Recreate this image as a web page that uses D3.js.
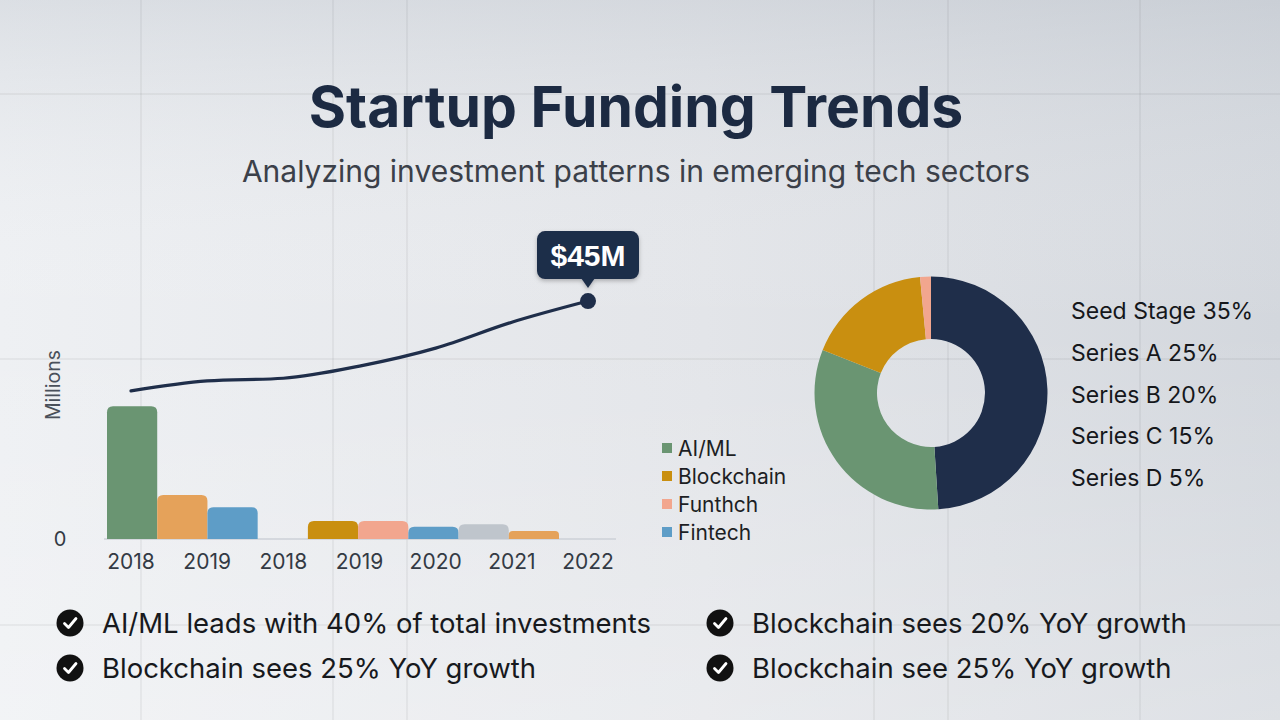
<!DOCTYPE html>
<html>
<head>
<meta charset="utf-8">
<script src="https://cdn.jsdelivr.net/npm/d3@7"></script>
<style>
  html, body { margin: 0; padding: 0; }
  body { width: 1280px; height: 720px; overflow: hidden; font-family: Inter, "Noto Sans", sans-serif; }
</style>
</head>
<body>
<svg id="chart" width="1280" height="720"></svg>
<script>
// x-axis labels under the bars / line
var yearLabels = ["2018", "2019", "2018", "2019", "2020", "2021", "2022"]

// total funding line, in millions
var lineValues = [28, 29.9, 30.4, 32.7, 36.1, 41, 45]

// bar slots (slot 4 is empty in the picture)
var barValues = [25.1, 8.3, 6.0, null, 3.4, 3.4, 2.3, 2.8, 1.5]
var barColors = ["#6a9572", "#e5a25a", "#5e9dc7", null, "#c98f10", "#f2a68e", "#5e9dc7", "#bfc5cc", "#e5a25a"]

var legendNames = ["AI/ML", "Blockchain", "Funthch", "Fintech"]
var legendColors = ["#6a9572", "#c98f10", "#f2a68e", "#5e9dc7"]

// donut shares
var donutValues = [49, 32, 17.5, 1.5]
var donutColors = ["#1f2e4a", "#6a9572", "#c98f10", "#f2a68e"]

var stageLabels = ["Seed Stage 35%", "Series A 25%", "Series B 20%", "Series C 15%", "Series D 5%"]

var bullets = [
    "AI/ML leads with 40% of total investments",
    "Blockchain sees 25% YoY growth",
    "Blockchain sees 20% YoY growth",
    "Blockchain see 25% YoY growth"
]

var navy = "#1f2e4a"
var svg = d3.select("#chart")

// background
var defs = svg.append("defs")
var bgH = defs.append("linearGradient").attr("id", "bgH").attr("x1", 0).attr("x2", 1).attr("y1", 0).attr("y2", 0)
bgH.append("stop").attr("offset", "0%").attr("stop-color", "#eef0f3")
bgH.append("stop").attr("offset", "55%").attr("stop-color", "#e3e5e9")
bgH.append("stop").attr("offset", "100%").attr("stop-color", "#d3d7dd")
var bgV = defs.append("linearGradient").attr("id", "bgV").attr("x1", 0).attr("x2", 0).attr("y1", 0).attr("y2", 1)
bgV.append("stop").attr("offset", "0%").attr("stop-color", "#b9c0c9").attr("stop-opacity", 0.35)
bgV.append("stop").attr("offset", "45%").attr("stop-color", "#ffffff").attr("stop-opacity", 0)
bgV.append("stop").attr("offset", "100%").attr("stop-color", "#ffffff").attr("stop-opacity", 0.25)

var shadow = defs.append("filter").attr("id", "shadow").attr("x", "-20%").attr("y", "-20%").attr("width", "140%").attr("height", "160%")
shadow.append("feDropShadow").attr("dx", 0).attr("dy", 2).attr("stdDeviation", 2).attr("flood-color", "#000").attr("flood-opacity", 0.25)

svg.append("rect").attr("width", 1280).attr("height", 720).attr("fill", "url(#bgH)")
svg.append("rect").attr("width", 1280).attr("height", 720).attr("fill", "url(#bgV)")

// faint background grid
var gridX = [141, 333, 407, 874, 948, 1140]
var gridY = [94, 359, 625]
svg.selectAll(".gx").data(gridX).enter().append("line")
    .attr("x1", function(d) { return d }).attr("x2", function(d) { return d })
    .attr("y1", 0).attr("y2", 720)
    .attr("stroke", "#000").attr("stroke-opacity", 0.06).attr("stroke-width", 1.5)
svg.selectAll(".gy").data(gridY).enter().append("line")
    .attr("y1", function(d) { return d }).attr("y2", function(d) { return d })
    .attr("x1", 0).attr("x2", 1280)
    .attr("stroke", "#000").attr("stroke-opacity", 0.06).attr("stroke-width", 1.5)

// titles
svg.append("text").attr("x", 636).attr("y", 127).attr("text-anchor", "middle")
    .attr("font-size", 57).attr("font-weight", 700).attr("fill", "#1c2a42")
    .text("Startup Funding Trends")
svg.append("text").attr("x", 636).attr("y", 182).attr("text-anchor", "middle")
    .attr("font-size", 30).attr("fill", "#3b4049")
    .text("Analyzing investment patterns in emerging tech sectors")

// scales
var y = d3.scaleLinear().domain([0, 50]).range([539, 274.6])
var xBand = d3.scaleBand().domain(d3.range(barValues.length)).range([107, 559]).padding(0)
var xPoint = d3.scalePoint().domain(d3.range(yearLabels.length)).range([131, 588])

// baseline
svg.append("line").attr("x1", 104).attr("x2", 616).attr("y1", y(0)).attr("y2", y(0))
    .attr("stroke", "#cdd1d7").attr("stroke-width", 1.5)

// bars, rounded on top
function topRounded(x, yTop, w, h, r) {
    return "M" + x + "," + (yTop + h) +
        "V" + (yTop + r) + "Q" + x + "," + yTop + " " + (x + r) + "," + yTop +
        "H" + (x + w - r) + "Q" + (x + w) + "," + yTop + " " + (x + w) + "," + (yTop + r) +
        "V" + (yTop + h) + "Z"
}
svg.selectAll(".bar").data(barValues.map(function(v, i) { return { v: v, i: i } })
        .filter(function(d) { return d.v != null }))
    .enter().append("path")
    .attr("class", "bar")
    .attr("d", function(d) {
        var h = y(0) - y(d.v)
        return topRounded(xBand(d.i), y(d.v), xBand.bandwidth(), h, Math.min(6, h / 2))
    })
    .attr("fill", function(d) { return barColors[d.i] })

// x tick labels
svg.selectAll(".xl").data(yearLabels).enter().append("text")
    .attr("x", function(d, i) { return xPoint(i) })
    .attr("y", 569)
    .attr("text-anchor", "middle").attr("font-size", 21).attr("fill", "#333a44")
    .text(function(d) { return d })

// y axis bits
svg.append("text").attr("x", 60).attr("y", y(0) + 7).attr("text-anchor", "middle")
    .attr("font-size", 20).attr("fill", "#333a44").text("0")
svg.append("text").attr("transform", "translate(60,385) rotate(-90)")
    .attr("text-anchor", "middle").attr("font-size", 19.5).attr("fill", "#4a505a")
    .text("Millions")

// funding line
var line = d3.line()
    .x(function(d, i) { return xPoint(i) })
    .y(function(d) { return y(d) })
    .curve(d3.curveMonotoneX)
svg.append("path").datum(lineValues).attr("d", line)
    .attr("fill", "none").attr("stroke", navy).attr("stroke-width", 3.2).attr("stroke-linecap", "round")

var lastI = lineValues.length - 1
var lx = xPoint(lastI), ly = y(lineValues[lastI])
svg.append("circle").attr("cx", lx).attr("cy", ly).attr("r", 8).attr("fill", navy)

// tooltip
var tip = svg.append("g").attr("filter", "url(#shadow)")
tip.append("rect").attr("x", lx - 51).attr("y", ly - 70).attr("width", 102).attr("height", 48).attr("rx", 8).attr("fill", navy)
tip.append("path").attr("d", "M" + (lx - 7) + "," + (ly - 23) + "L" + lx + "," + (ly - 13) + "L" + (lx + 7) + "," + (ly - 23) + "Z").attr("fill", navy)
svg.append("text").attr("x", lx).attr("y", ly - 35.5).attr("text-anchor", "middle")
    .attr("font-family", "Arial, 'Liberation Sans', sans-serif")
    .attr("font-size", 30).attr("font-weight", 700).attr("fill", "#fff")
    .text("$" + lineValues[lastI] + "M")

// legend
var leg = svg.selectAll(".leg").data(legendNames).enter().append("g")
    .attr("transform", function(d, i) { return "translate(662," + (448 + i * 28) + ")" })
leg.append("rect").attr("x", 0).attr("y", -5).attr("width", 10).attr("height", 10)
    .attr("fill", function(d, i) { return legendColors[i] })
leg.append("text").attr("x", 16).attr("y", 7.5).attr("font-size", 21).attr("fill", "#1d1f24")
    .text(function(d) { return d })

// donut
var pie = d3.pie().sort(null)
var arc = d3.arc().innerRadius(54).outerRadius(116.5)
svg.append("g").attr("transform", "translate(931,393)")
    .selectAll("path").data(pie(donutValues)).enter().append("path")
    .attr("d", arc)
    .attr("fill", function(d, i) { return donutColors[i] })

svg.selectAll(".stage").data(stageLabels).enter().append("text")
    .attr("x", 1071).attr("y", function(d, i) { return 319 + i * 41.8 })
    .attr("font-size", 23).attr("fill", "#15171b")
    .text(function(d) { return d })

// bullet points
var bulletPos = [[70, 623], [70, 668], [720, 623], [720, 668]]
var bl = svg.selectAll(".bl").data(bullets).enter().append("g")
    .attr("transform", function(d, i) { return "translate(" + bulletPos[i][0] + "," + bulletPos[i][1] + ")" })
bl.append("circle").attr("r", 13.5).attr("fill", "#111")
bl.append("path").attr("d", "M-5.5,0.5L-1.5,4.5L6,-4.5")
    .attr("fill", "none").attr("stroke", "#fff").attr("stroke-width", 2.8)
    .attr("stroke-linecap", "round").attr("stroke-linejoin", "round")
bl.append("text").attr("x", 32).attr("y", 10).attr("font-size", 27.5).attr("fill", "#17191d")
    .text(function(d) { return d })
</script>
</body>
</html>
